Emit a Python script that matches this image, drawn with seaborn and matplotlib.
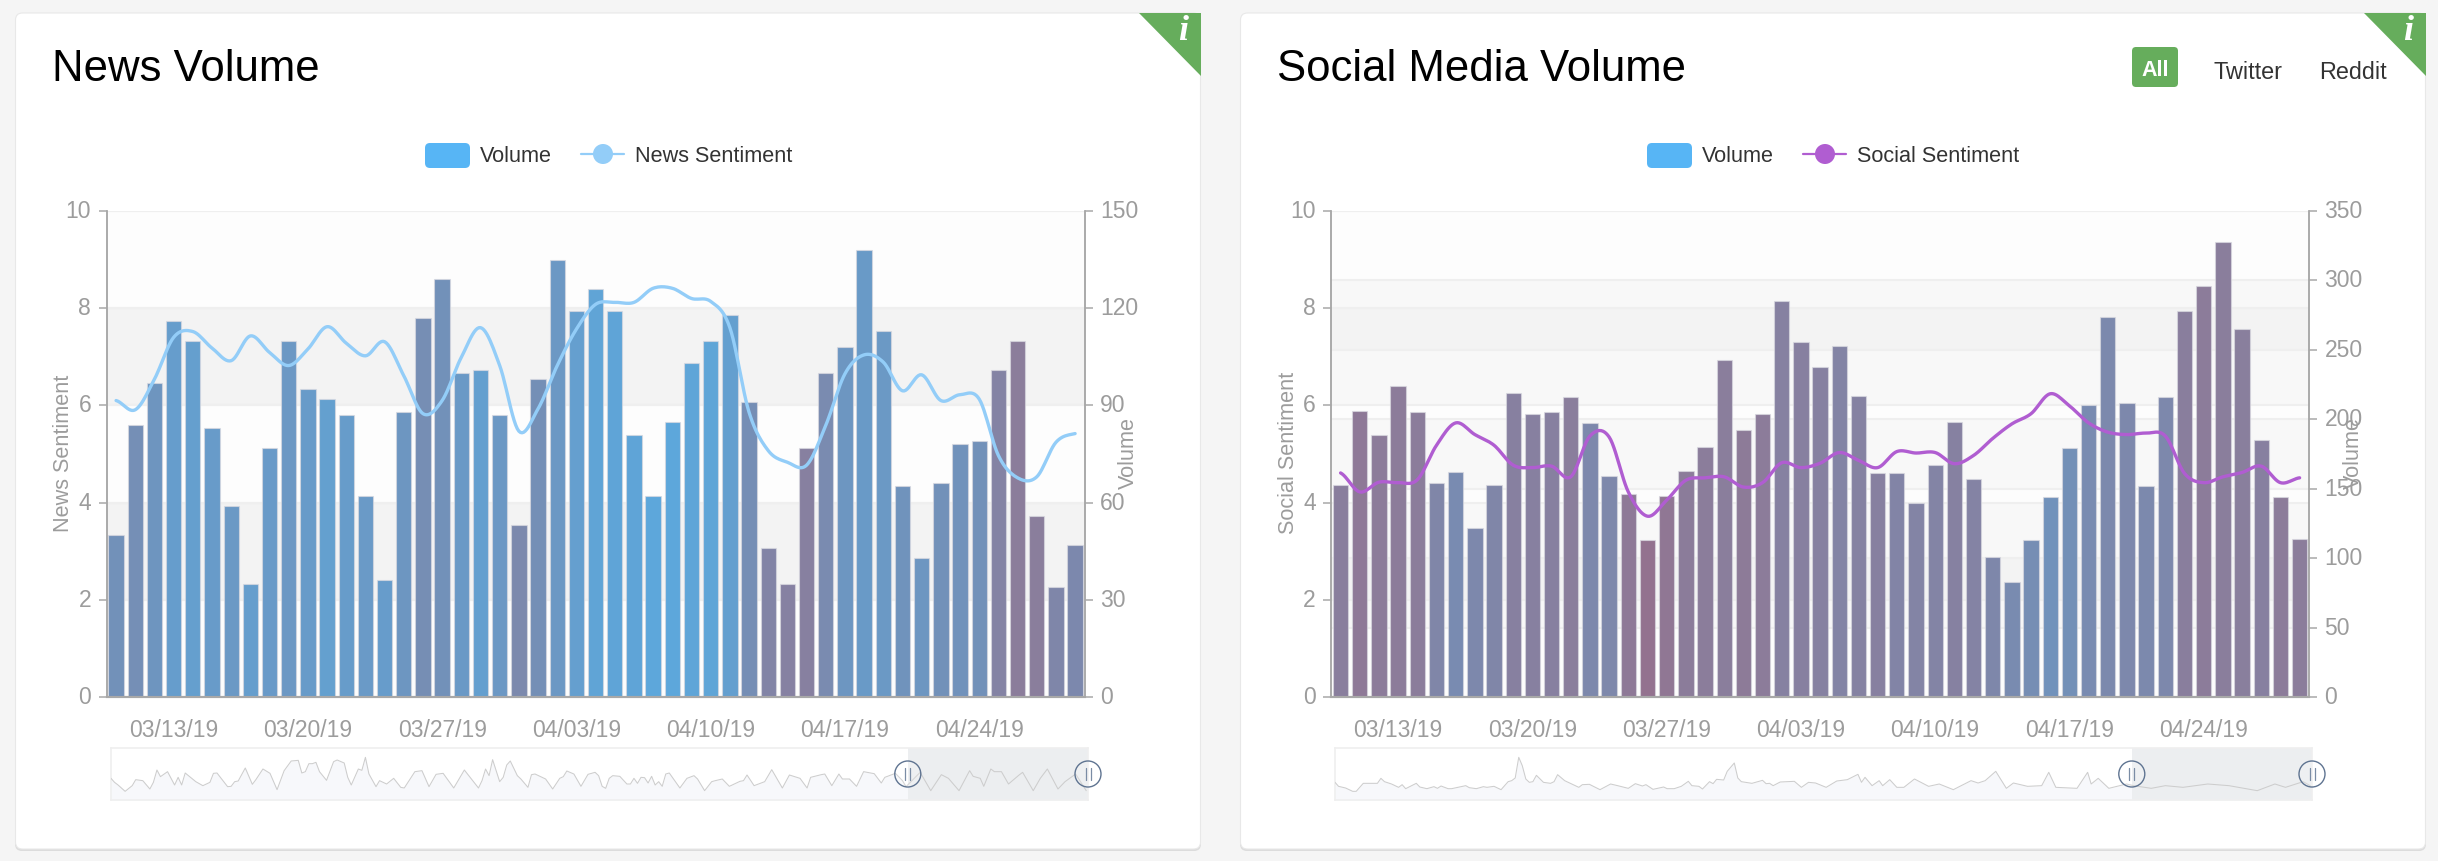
### News and social media volume panels.

import matplotlib
matplotlib.use('Agg')
import matplotlib.pyplot as plt
import numpy as np
import pandas as pd
import seaborn as sns
from matplotlib.colors import LinearSegmentedColormap, Normalize
from matplotlib.patches import Circle, FancyBboxPatch, Polygon
from matplotlib.transforms import ScaledTranslation

W, H = 2438, 862
GREEN = '#66ad5c'
AXIS_GREY = '#a8a8a8'
TEXT_GREY = '#9c9c9c'

news_volume = [50, 84, 97, 116, 110, 83, 59, 35, 77, 110, 95, 92, 87, 62, 36, 88, 117, 129,
               100, 101, 87, 53, 98, 135, 119, 126, 119, 81, 62, 85, 103, 110, 118, 91, 46,
               35, 77, 100, 108, 138, 113, 65, 43, 66, 78, 79, 101, 110, 56, 34, 47]
news_sentiment = [6.10, 5.91, 6.54, 7.40, 7.52, 7.18, 6.92, 7.43, 7.09, 6.82, 7.16, 7.62, 7.28,
                  7.02, 7.31, 6.61, 5.83, 6.10, 6.99, 7.60, 6.82, 5.47, 5.93, 6.82, 7.57, 8.08,
                  8.12, 8.12, 8.41, 8.41, 8.20, 8.14, 7.60, 5.86, 5.07, 4.83, 4.77, 5.59, 6.65,
                  7.04, 6.89, 6.30, 6.63, 6.10, 6.22, 6.13, 4.97, 4.51, 4.53, 5.24, 5.42]
social_volume = [153, 206, 189, 224, 205, 154, 162, 122, 153, 219, 204, 205, 216, 197, 159, 146,
                 113, 145, 163, 180, 243, 192, 204, 285, 256, 238, 253, 217, 161, 161, 140, 167,
                 198, 157, 101, 83, 113, 144, 179, 210, 274, 212, 152, 216, 278, 296, 328, 265,
                 185, 144, 114]
social_sentiment = [4.61, 4.22, 4.42, 4.41, 4.47, 5.18, 5.64, 5.40, 5.18, 4.77, 4.72, 4.75, 4.53,
                    5.37, 5.35, 4.22, 3.72, 4.05, 4.46, 4.51, 4.53, 4.32, 4.41, 4.82, 4.72, 4.81,
                    5.03, 4.87, 4.72, 5.05, 5.02, 5.03, 4.80, 4.97, 5.32, 5.62, 5.83, 6.24, 5.99,
                    5.64, 5.45, 5.40, 5.43, 5.37, 4.60, 4.41, 4.53, 4.62, 4.75, 4.41, 4.51]

news_overview_days = [0, 1, 2, 4, 6, 7, 9, 11, 12, 13, 14, 16, 18, 19, 20, 21, 24, 26, 28, 29,
                      30, 33, 34, 35, 36, 38, 40, 41, 43, 45, 47, 49, 51, 53, 54, 55, 56, 57, 58, 59,
                      61, 63, 64, 66, 67, 68, 70, 71, 72, 73, 75, 76, 78, 80, 82, 83, 86, 88, 90, 92,
                      94, 97, 100, 104, 105, 106, 107, 108, 110, 111, 112, 113, 115, 116, 118, 119,
                      120, 122, 123, 125, 127, 128, 129, 131, 133, 135, 137, 138, 139, 140, 141, 142,
                      144, 146, 147, 148, 149, 150, 151, 152, 153, 154, 155, 156, 157, 158, 161, 163,
                      165, 166, 168, 170, 171, 173, 175, 178, 179, 180, 182, 185, 187, 190, 192, 195,
                      197, 198, 201, 202, 204, 206, 207, 209, 211, 213, 216, 218, 219, 222, 224, 225,
                      229, 232, 235, 237, 240, 243, 244, 246, 247, 249, 250, 252, 254, 257, 258, 261,
                      263, 265, 268, 270, 273, 276]
news_overview_level = [65, 53, 45, 26, 43, 61, 58, 33, 53, 90, 70, 85, 45, 68, 45, 81, 55, 43, 53, 80,
                       81, 40, 41, 55, 57, 96, 47, 61, 93, 80, 31, 88, 117, 119, 81, 85, 109, 109, 113, 85,
                       59, 115, 120, 111, 68, 45, 93, 89, 128, 78, 40, 58, 48, 65, 38, 36, 85, 88, 40, 77,
                       80, 36, 90, 36, 58, 93, 73, 121, 55, 68, 105, 117, 73, 63, 38, 76,
                       78, 68, 63, 33, 65, 70, 87, 78, 41, 77, 83, 73, 41, 35, 65, 73,
                       71, 48, 48, 65, 50, 68, 67, 51, 71, 45, 55, 41, 78, 81, 36, 65,
                       73, 63, 28, 55, 58, 63, 41, 56, 58, 75, 43, 55, 91, 36, 75, 65,
                       36, 68, 76, 78, 43, 78, 63, 63, 41, 85, 79, 51, 68, 80, 58, 40,
                       83, 28, 76, 65, 28, 88, 71, 65, 41, 93, 85, 85, 48, 75, 83, 28,
                       65, 93, 33, 55, 78, 28]
social_overview_days = [0, 1, 3, 5, 6, 8, 12, 13, 14, 16, 18, 19, 20, 23, 24, 26, 28, 29, 30, 32,
                        33, 37, 38, 40, 42, 43, 45, 47, 49, 50, 51, 52, 53, 54, 55, 56, 57, 59, 61, 62,
                        63, 65, 67, 69, 70, 72, 75, 78, 80, 83, 85, 87, 88, 90, 93, 94, 96, 98, 100, 101,
                        103, 104, 106, 107, 108, 110, 111, 113, 114, 115, 118, 121, 122, 123, 124, 126,
                        130, 132, 134, 136, 139, 142, 145, 148, 149, 150, 152, 154, 155, 157, 159, 161,
                        164, 168, 171, 175, 180, 182, 184, 187, 190, 192, 196, 200, 202, 204, 210, 213,
                        214, 216, 219, 224, 226, 231, 235, 240, 247, 253, 261, 266, 269, 274, 276]
social_overview_level = [53, 41, 36, 26, 26, 50, 50, 65, 55, 48, 38, 46, 34, 50, 39, 34, 40, 35, 42, 34,
                         34, 43, 37, 34, 40, 38, 41, 31, 55, 58, 66, 128, 103, 63, 53, 55, 74, 53, 50, 55,
                         76, 58, 48, 38, 46, 47, 31, 48, 43, 35, 49, 42, 46, 32, 39, 34, 34, 41, 56, 43,
                         41, 33, 55, 49, 62, 60, 86, 111, 66, 55, 50, 59, 49, 50, 43, 54,
                         56, 38, 53, 51, 38, 57, 61, 77, 53, 68, 43, 58, 43, 61, 38, 38,
                         63, 41, 48, 31, 58, 51, 58, 86, 35, 51, 41, 43, 83, 38, 35, 83,
                         48, 65, 35, 48, 43, 35, 43, 38, 48, 43, 28, 48, 38, 55, 43]

days = pd.date_range('2019-03-10', periods=len(news_volume))
left_ticks = [0, 2, 4, 6, 8, 10]
news_right_ticks = [0, 30, 60, 90, 120, 150]
social_right_ticks = [0, 50, 100, 150, 200, 250, 300, 350]

# bar colour follows the sentiment of the day
tone_cmap = LinearSegmentedColormap.from_list('tone', [(0, '#9a6884'), (0.27, '#8b7d9b'),
                                                       (0.55, '#7390b8'), (1, '#5ca8dc')])
tone_norm = Normalize(3, 8.5)


def px_axes(fig, x0, y0, x1, y1, **kw):
  return fig.add_axes([x0 / W, 1 - y1 / H, (x1 - x0) / W, (y1 - y0) / H], **kw)


def smooth(xs, ys, per=12):
  """Catmull-Rom through the daily points, like the smoothed line of the original."""
  p = np.r_[ys[0], ys, ys[-1]]
  t = np.linspace(0, 1, per, endpoint=False)[:, None]
  a, b, c, d = p[:-3, None].T, p[1:-2, None].T, p[2:-1, None].T, p[3:, None].T
  seg = 0.5 * (2 * b + (c - a) * t + (2 * a - 5 * b + 4 * c - d) * t ** 2 + (3 * b - a - 3 * c + d) * t ** 3)
  new_y = np.r_[seg.T.ravel(), ys[-1]]
  new_x = np.linspace(xs[0], xs[-1], len(new_y))
  return new_x, new_y


def draw_bands(ax, ticks, alpha=0.022):
  """Alternating split areas and lines of one y axis, in the bar axes' units."""
  vmax = ax.get_ylim()[1]
  scale = vmax / ticks[-1]
  for i in range(len(ticks) - 1):
    lo, hi = ticks[i] * scale, ticks[i + 1] * scale
    ax.axhspan(lo, hi, color='black', lw=0, alpha=alpha if i % 2 else 0.004, zorder=0)
    ax.axhline(hi, color='#efefef', lw=1.5, zorder=0.5)


def nudge_labels(labels, dy_px=3):
  for lab in labels:
    lab.set_transform(lab.get_transform() + ScaledTranslation(0, dy_px / 100, lab.figure.dpi_scale_trans))


def draw_main(fig, x0, volume, sentiment, right_ticks, line_color, left_label):
  x1 = x0 + 978.2
  ax = px_axes(fig, x0, 212, x1, 698, facecolor='none')
  df = pd.DataFrame({'day': days.strftime('%m/%d/%y'), 'volume': volume, 'sentiment': sentiment})
  palette = [tone_cmap(tone_norm(s)) for s in sentiment]

  ax.set_ylim(0, right_ticks[-1])
  draw_bands(ax, left_ticks)
  draw_bands(ax, right_ticks)
  sns.barplot(data=df, x='day', y='volume', hue='day', palette=palette, legend=False, dodge=False,
              width=0.8, saturation=1, edgecolor=(0.85, 0.85, 0.88, 0.7), linewidth=0.8, zorder=2, ax=ax)
  ax.set_xlim(-0.5, len(df) - 0.5)
  ax.set_ylim(0, right_ticks[-1])

  ax2 = ax.twinx()
  ax2.patch.set_visible(False)
  xs, ys = smooth(np.arange(len(df), dtype=float), np.array(sentiment))
  sns.lineplot(x=xs, y=ys, color=line_color, lw=2.4, errorbar=None, ax=ax2)
  ax2.set_ylim(left_ticks[0], left_ticks[-1])

  ax.yaxis.tick_right()
  ax.yaxis.set_label_position('right')
  ax2.yaxis.tick_left()
  ax2.yaxis.set_label_position('left')
  ax.set_yticks(right_ticks)
  ax2.set_yticks(left_ticks)
  ax.tick_params(axis='y', length=6, width=1.1, color=AXIS_GREY, labelcolor=TEXT_GREY, labelsize=16.5, pad=5,
                 left=False, right=True, labelleft=False, labelright=True)
  ax2.tick_params(axis='y', length=6, width=1.1, color=AXIS_GREY, labelcolor=TEXT_GREY, labelsize=16.5, pad=5,
                  left=True, right=False, labelleft=True, labelright=False)
  nudge_labels(ax.get_yticklabels())
  nudge_labels(ax2.get_yticklabels())

  label_days = np.arange(3, len(df), 7)
  ax.set_xticks(np.arange(6.5, len(df) - 1, 7))
  ax.set_xticklabels([])
  ax.set_xticks(label_days, minor=True)
  ax.set_xticklabels(df['day'].iloc[label_days], minor=True)
  ax.tick_params(axis='x', which='major', length=5.5, width=1.1, color=AXIS_GREY)
  ax.tick_params(axis='x', which='minor', length=0, pad=15, labelcolor=TEXT_GREY, labelsize=16.5)
  ax.set_xlabel('')
  ax.set_ylabel('')
  ax2.set_ylabel('')

  for a in (ax, ax2):
    a.spines['top'].set_visible(False)
    for side in ('left', 'right'):
      a.spines[side].set_color(AXIS_GREY)
      a.spines[side].set_linewidth(1.1)
    a.spines['bottom'].set_color(AXIS_GREY)
    a.spines['bottom'].set_linewidth(1.5)

  fig.text((x0 - 43) / W, 1 - 453 / H, left_label, rotation=90, ha='center', va='center',
           color=TEXT_GREY, fontsize=15.6)
  fig.text((x1 + 44) / W, 1 - 453 / H, 'Volume', rotation=90, ha='center', va='center',
           color=TEXT_GREY, fontsize=15.6)


def draw_overview(fig, overlay, x0, ov_days, level):
  x1 = x0 + 977
  ax = px_axes(fig, x0, 749, x1, 801, facecolor='white')
  ax.set_xlim(0, 276.5)
  ax.set_ylim(0, 156)
  ax.fill_between(ov_days, level, color='#f7f8fb', lw=0, zorder=1)
  ax.axvspan(225.5, 276.5, color='#eceef0', lw=0, zorder=2)
  sns.lineplot(x=ov_days, y=level, color='#cdcdcd', lw=0.75, errorbar=None, zorder=3, ax=ax)
  ax.set_xticks([])
  ax.set_yticks([])
  ax.set_xlabel('')
  ax.set_ylabel('')
  for spine in ax.spines.values():
    spine.set_color('#efefef')
    spine.set_linewidth(1.2)
  for hx in (x0 + 225.5 * 977 / 276.5, x1):
    overlay.add_patch(Circle((hx, 775), 13, fc=(1, 1, 1, 0.15), ec='#5f7491', lw=1))
    for dx in (-2.5, 2.5):
      overlay.plot([hx + dx, hx + dx], [769, 781], color='#7a8ca5', lw=0.9)


def draw_card(canvas, x0, x1, title, legend_x, line_label, line_color):
  canvas.add_patch(FancyBboxPatch((x0, 16), x1 - x0, 836, boxstyle='round,pad=0,rounding_size=7',
                                  fc='#dcdcdc', ec='none', zorder=1))
  canvas.add_patch(FancyBboxPatch((x0 + 0.5, 14), x1 - x0 - 1, 836, boxstyle='round,pad=0,rounding_size=7',
                                  fc='white', ec='#e8e8e8', lw=0.8, zorder=2))
  canvas.add_patch(Polygon([(x1 - 62, 14), (x1, 14), (x1, 77)], fc=GREEN, ec='none', zorder=3))
  canvas.text(x1 - 18, 32, 'i', color='white', fontsize=26, family='Liberation Serif', style='italic',
              weight='bold', ha='center', va='center', zorder=4)
  canvas.text(x0 + 37, 81, title, color='black', fontsize=31.5, ha='left', va='baseline', zorder=4)

  # legend
  canvas.add_patch(FancyBboxPatch((legend_x, 144), 45, 25, boxstyle='round,pad=0,rounding_size=5',
                                  fc='#57b5f5', ec='none', zorder=4))
  canvas.text(legend_x + 55, 156, 'Volume', color='#333333', fontsize=15.6, va='center', zorder=4)
  canvas.plot([legend_x + 156, legend_x + 199], [155, 155], color=line_color, lw=1.6, zorder=4)
  canvas.add_patch(Circle((legend_x + 178, 155), 10, fc=line_color, ec='none', zorder=5))
  canvas.text(legend_x + 210, 156, line_label, color='#333333', fontsize=15.6, va='center', zorder=4)


sns.set_theme(style='white')
plt.rcParams['font.family'] = ['Liberation Sans', 'DejaVu Sans']

fig = plt.figure(figsize=(W / 100, H / 100), dpi=100, facecolor='#f5f5f5')

canvas = px_axes(fig, 0, 0, W, H, facecolor='none', zorder=-1)
canvas.set_xlim(0, W)
canvas.set_ylim(H, 0)
canvas.axis('off')

overlay = px_axes(fig, 0, 0, W, H, facecolor='none', zorder=10)
overlay.set_xlim(0, W)
overlay.set_ylim(H, 0)
overlay.axis('off')

draw_card(canvas, 15, 1201, 'News Volume', 425, 'News Sentiment', '#93cdf8')
draw_card(canvas, 1240, 2426, 'Social Media Volume', 1647, 'Social Sentiment', '#b05dd1')

# source switch of the social card
canvas.add_patch(FancyBboxPatch((2132, 48), 46, 40, boxstyle='round,pad=0,rounding_size=4',
                                fc=GREEN, ec='none', zorder=4))
canvas.text(2155, 70, 'All', color='white', fontsize=15.5, weight='bold', ha='center', va='center', zorder=5)
canvas.text(2214, 79, 'Twitter', color='#333333', fontsize=16.8, va='baseline', zorder=5)
canvas.text(2319, 79, 'Reddit', color='#333333', fontsize=16.8, va='baseline', zorder=5)

draw_main(fig, 106.5, news_volume, news_sentiment, news_right_ticks, '#93cdf8', 'News Sentiment')
draw_main(fig, 1331, social_volume, social_sentiment, social_right_ticks, '#b05dd1', 'Social Sentiment')
draw_overview(fig, overlay, 111, news_overview_days, news_overview_level)
draw_overview(fig, overlay, 1335, social_overview_days, social_overview_level)

fig.savefig('out.png', dpi=100, facecolor=fig.get_facecolor())
